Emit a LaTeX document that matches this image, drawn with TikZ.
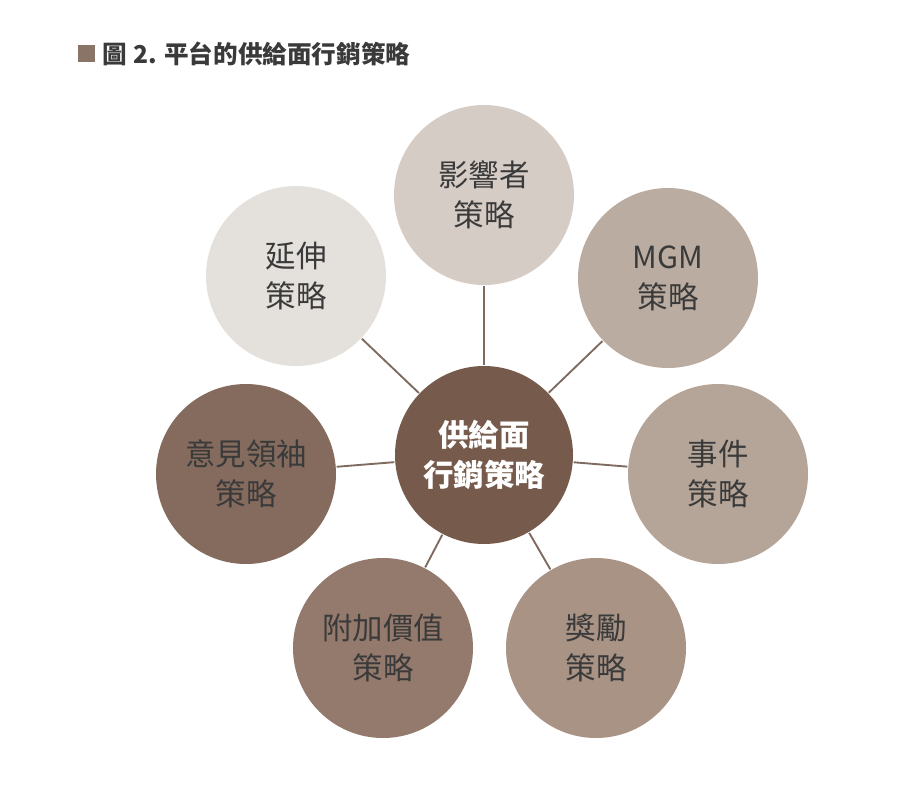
\documentclass[tikz,border=0pt]{standalone}
\usepackage{fontspec}
\setmainfont{Noto Sans CJK TC}
\setsansfont{Noto Sans CJK TC}
\definecolor{hub}{HTML}{765A4C}
\definecolor{cA}{HTML}{D6CCC6}
\definecolor{cB}{HTML}{BAACA0}
\definecolor{cC}{HTML}{B5A598}
\definecolor{cD}{HTML}{A89385}
\definecolor{cE}{HTML}{937A6C}
\definecolor{cF}{HTML}{846B5E}
\definecolor{cG}{HTML}{E4E0DC}
\definecolor{ink}{HTML}{3A3A3A}
\definecolor{spoke}{HTML}{7E6A5E}
\tikzset{>=latex}
\begin{document}
\begin{tikzpicture}[x=0.03cm, y=-0.03cm, line width=1.6pt]
			% Frame
			\useasboundingbox (0,0) rectangle (900,809);
			
			% Title
			\fill[hub!85!white] (78,45) rectangle (95,62);
			\node[anchor=west, font=\fontsize{21}{24}\selectfont\bfseries, text=ink] (title) at (98,54) {圖 2. 平台的供給面行銷策略};
			
			% Circles
			\tikzset{petal/.style={circle, minimum size=180*0.03cm, inner sep=0, align=center,
				font=\fontsize{26}{34}\selectfont, text=ink}}
			\node[petal, fill=cA] (infl) at (484,195) {影響者\\策略};
			\node[petal, fill=cB] (mgm) at (668,278) {MGM\\策略};
			\node[petal, fill=cC] (event) at (718,474) {事件\\策略};
			\node[petal, fill=cD] (reward) at (596,648) {獎勵\\策略};
			\node[petal, fill=cE] (value) at (383,648) {附加價值\\策略};
			\node[petal, fill=cF] (kol) at (246,474) {意見領袖\\策略};
			\node[petal, fill=cG] (ext) at (296,276) {延伸\\策略};
			\node[petal, fill=hub, minimum size=178*0.03cm, text=white, font=\fontsize{26}{34}\selectfont\bfseries] (hubnode) at (484,455) {供給面\\行銷策略};
			
			% Spokes
			\foreach \n in {infl,mgm,event,reward,value,kol,ext}
				\draw[spoke] (hubnode) -- (\n);
		\end{tikzpicture}
\end{document}
